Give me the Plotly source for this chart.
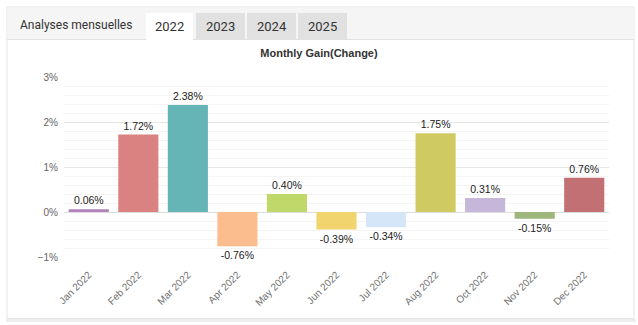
import plotly.graph_objects as go

months = ["Jan 2022", "Feb 2022", "Mar 2022", "Apr 2022", "May 2022", "Jun 2022",
          "Jul 2022", "Aug 2022", "Oct 2022", "Nov 2022", "Dec 2022"]
gains = [0.06, 1.72, 2.38, -0.76, 0.40, -0.39, -0.34, 1.75, 0.31, -0.15, 0.76]
colors = ["#b282bb", "#da8282", "#66b5b6", "#fbbd8e", "#c0d86a", "#f2d46e",
          "#d5e6f8", "#cfca62", "#c6b6da", "#9cb67c", "#c27074"]
tabs = ["2022", "2023", "2024", "2025"]

W, H = 638, 325
L, R, T, B = 64, 29, 77, 68
PW, PH = W - L - R, H - T - B


def px(x):
    return (x - L) / PW


def py(y):
    return 1 - (y - T) / PH


fig = go.Figure(go.Bar(
    x=months, y=gains,
    marker=dict(color=colors, line=dict(width=0)),
    text=[f"{v:.2f}%" for v in gains],
    textposition="outside",
    textfont=dict(family="Liberation Sans Narrow, Arial Narrow, Liberation Sans", size=10.5, color="#222"),
    cliponaxis=False,
    hoverinfo="skip",
))

shapes = []
# card background and outline
shapes.append(dict(type="rect", xref="paper", yref="paper", layer="below",
                   x0=px(7), x1=px(634), y0=py(318.5), y1=py(7),
                   fillcolor="white", line=dict(color="#e4e4e4", width=1)))
# bottom shadow
shapes.append(dict(type="rect", xref="paper", yref="paper", layer="below",
                   x0=px(6), x1=px(636), y0=py(322), y1=py(319),
                   fillcolor="#eeeeee", line=dict(width=0)))
# tab bar
shapes.append(dict(type="rect", xref="paper", yref="paper", layer="below",
                   x0=px(7.5), x1=px(633.5), y0=py(39.5), y1=py(7.5),
                   fillcolor="#f5f5f5", line=dict(width=0)))
shapes.append(dict(type="line", xref="paper", yref="paper", layer="below",
                   x0=px(7), x1=px(634), y0=py(39.5), y1=py(39.5),
                   line=dict(color="#e2e2e2", width=1)))
tab_x = [(146, 193), (196, 245), (247, 296), (298, 347)]
annotations = [dict(text="Analyses mensuelles", xref="paper", yref="paper",
                    x=px(18), y=py(25), xanchor="left", yanchor="middle",
                    showarrow=False, font=dict(family="Roboto", size=12, color="#333"))]
for i, (name, (a, b)) in enumerate(zip(tabs, tab_x)):
    shapes.append(dict(type="rect", xref="paper", yref="paper", layer="below",
                       x0=px(a), x1=px(b), y0=py(40 if i == 0 else 39), y1=py(13),
                       fillcolor="white" if i == 0 else "#e1e1e1", line=dict(width=0)))
    annotations.append(dict(text=name, xref="paper", yref="paper",
                            x=px((a + b) / 2), y=py(26), xanchor="center", yanchor="middle",
                            showarrow=False, font=dict(family="Roboto", size=13, color="#333")))

fig.update_layout(
    width=W, height=H,
    margin=dict(l=L, r=R, t=T, b=B),
    paper_bgcolor="white", plot_bgcolor="white",
    showlegend=False,
    bargap=0.19,
    title=dict(text="<b>Monthly Gain(Change)</b>", xref="container", x=0.5, xanchor="center",
               yref="container", y=1 - 53 / H, yanchor="middle",
               font=dict(family="Liberation Sans, Arial", size=11, color="#333")),
    shapes=shapes,
    annotations=annotations,
    xaxis=dict(type="category", tickangle=-45, showgrid=False, showline=False, ticks="",
               ticklabelstandoff=9,
               tickfont=dict(family="Liberation Sans, Arial", size=10, color="#707070")),
    yaxis=dict(range=[-1, 3], dtick=1, ticksuffix="%", showline=False, ticks="",
               gridcolor="#e6e6e6", gridwidth=1, zeroline=True, zerolinecolor="#dddddd",
               zerolinewidth=1, ticklabelstandoff=5,
               tickfont=dict(family="Liberation Sans, Arial", size=10, color="#666"),
               minor=dict(dtick=0.2, showgrid=True, gridcolor="#f4f4f4", gridwidth=1)),
)

fig.write_html("out.html")
